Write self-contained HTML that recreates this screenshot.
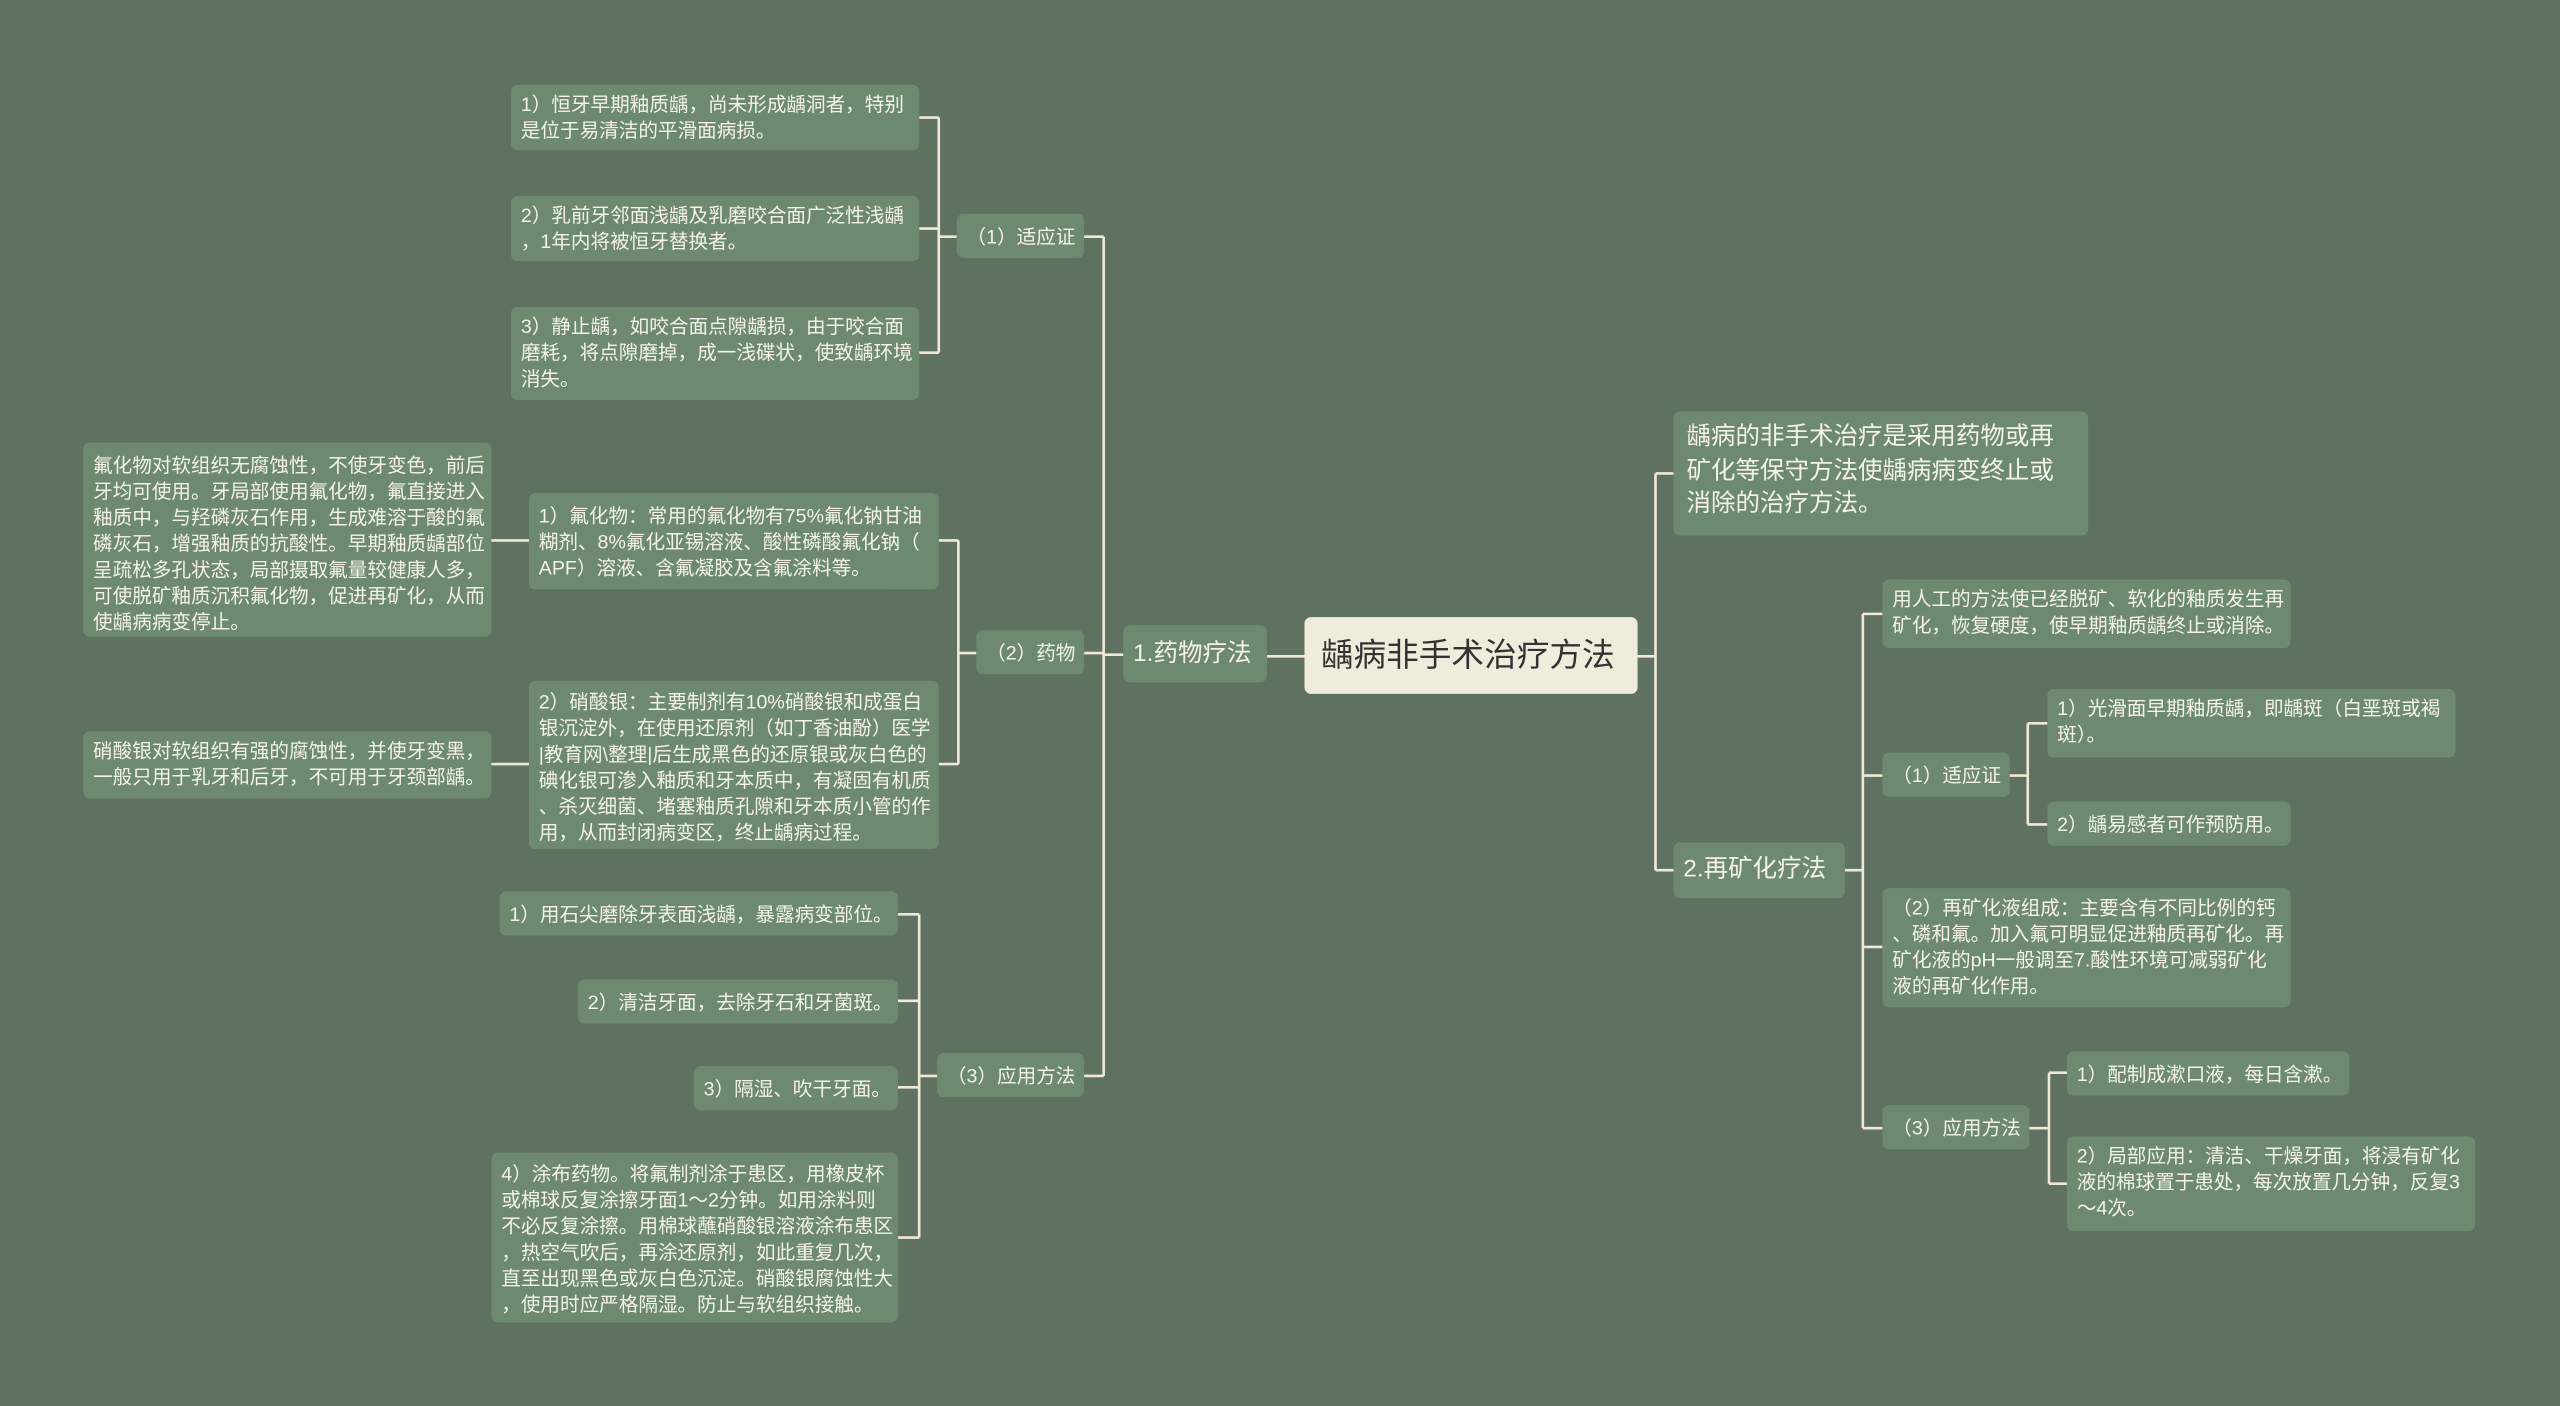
<!DOCTYPE html>
<html><head><meta charset="utf-8"><style>
html,body{margin:0;padding:0;background:#5f7261;width:2560px;height:1405px;overflow:hidden}
#s{position:absolute;left:0;top:0;width:1568px;height:861px;transform:scale(1.63265);transform-origin:0 0;font-family:"Liberation Sans","Noto Sans CJK SC",sans-serif}
.n{position:absolute;background:#6d8a70;color:#f4f2e8;border-radius:4px;box-sizing:border-box;padding:4px 6px;font-size:12px;line-height:16px;white-space:nowrap}
.m{display:flex;align-items:center}
svg{position:absolute;left:0;top:0}
</style></head><body><div id="s">
<svg width="1568" height="861" fill="none" stroke="#efe9d6" stroke-width="1.6" stroke-linejoin="round">
<path d="M799,402H776"/>
<path d="M1003,402H1014M1014,290V533M1014,290H1025M1014,533H1025"/>
<path d="M688,401H676M676,145V659M676,145H664M676,400H664M676,659H664"/>
<path d="M586,145H575M575,72V216M575,72H563M575,140H563M575,216H563"/>
<path d="M598,400H587M587,331V468M587,331H575M587,468H575"/>
<path d="M324,331H301M324,468H301"/>
<path d="M574,659H563M563,560V758M563,560H550M563,613H550M563,666H550M563,758H550"/>
<path d="M1130,533H1141M1141,376V691M1141,376H1153M1141,475H1153M1141,580H1153M1141,691H1153"/>
<path d="M1231,475H1242M1242,443V505M1242,443H1254M1242,505H1254"/>
<path d="M1243,691H1255M1255,657V725M1255,657H1266M1255,725H1266"/>
</svg>
<div class="n m" style="left:799px;top:378px;width:204px;height:47px;background:#f0ecdc;color:#333;font-size:20px;padding:0 10px">龋病非手术治疗方法</div>
<div class="n m" style="left:688px;top:383px;width:88px;height:35px;font-size:15px">1.药物疗法</div>
<div class="n m" style="left:1025px;top:516px;width:105px;height:34px;font-size:15px">2.再矿化疗法</div>
<div class="n" style="left:1025px;top:252px;width:254px;height:76px;font-size:15px;line-height:20.5px;padding:6px 8px">龋病的非手术治疗是采用药物或再<br>矿化等保守方法使龋病病变终止或<br>消除的治疗方法。</div>

<div class="n m" style="left:586px;top:131px;width:78px;height:27px">（1）适应证</div>
<div class="n" style="left:313px;top:52px;width:250px;height:40px">1）恒牙早期釉质龋，尚未形成龋洞者，特别<br>是位于易清洁的平滑面病损。</div>
<div class="n" style="left:313px;top:120px;width:250px;height:40px">2）乳前牙邻面浅龋及乳磨咬合面广泛性浅龋<br>，1年内将被恒牙替换者。</div>
<div class="n" style="left:313px;top:188px;width:250px;height:57px">3）静止龋，如咬合面点隙龋损，由于咬合面<br>磨耗，将点隙磨掉，成一浅碟状，使致龋环境<br>消失。</div>

<div class="n m" style="left:598px;top:386px;width:66px;height:27px">（2）药物</div>
<div class="n" style="left:324px;top:302px;width:251px;height:59px;padding-top:6px">1）氟化物：常用的氟化物有75%氟化钠甘油<br>糊剂、8%氟化亚锡溶液、酸性磷酸氟化钠（<br>APF）溶液、含氟凝胶及含氟涂料等。</div>
<div class="n" style="left:51px;top:271px;width:250px;height:119px;padding-top:6px">氟化物对软组织无腐蚀性，不使牙变色，前后<br>牙均可使用。牙局部使用氟化物，氟直接进入<br>釉质中，与羟磷灰石作用，生成难溶于酸的氟<br>磷灰石，增强釉质的抗酸性。早期釉质龋部位<br>呈疏松多孔状态，局部摄取氟量较健康人多，<br>可使脱矿釉质沉积氟化物，促进再矿化，从而<br>使龋病病变停止。</div>
<div class="n" style="left:324px;top:417px;width:251px;height:103px;padding-top:5px">2）硝酸银：主要制剂有10%硝酸银和成蛋白<br>银沉淀外，在使用还原剂（如丁香油酚）医学<br>|教育网\整理|后生成黑色的还原银或灰白色的<br>碘化银可渗入釉质和牙本质中，有凝固有机质<br>、杀灭细菌、堵塞釉质孔隙和牙本质小管的作<br>用，从而封闭病变区，终止龋病过程。</div>
<div class="n" style="left:51px;top:448px;width:250px;height:41px">硝酸银对软组织有强的腐蚀性，并使牙变黑，<br>一般只用于乳牙和后牙，不可用于牙颈部龋。</div>

<div class="n m" style="left:574px;top:645px;width:90px;height:27px">（3）应用方法</div>
<div class="n m" style="left:306px;top:546px;width:244px;height:27px">1）用石尖磨除牙表面浅龋，暴露病变部位。</div>
<div class="n m" style="left:354px;top:600px;width:196px;height:27px">2）清洁牙面，去除牙石和牙菌斑。</div>
<div class="n m" style="left:425px;top:653px;width:125px;height:27px">3）隔湿、吹干牙面。</div>
<div class="n" style="left:301px;top:706px;width:249px;height:104px;padding-top:5px">4）涂布药物。将氟制剂涂于患区，用橡皮杯<br>或棉球反复涂擦牙面1～2分钟。如用涂料则<br>不必反复涂擦。用棉球蘸硝酸银溶液涂布患区<br>，热空气吹后，再涂还原剂，如此重复几次，<br>直至出现黑色或灰白色沉淀。硝酸银腐蚀性大<br>，使用时应严格隔湿。防止与软组织接触。</div>

<div class="n" style="left:1153px;top:355px;width:250px;height:42px">用人工的方法使已经脱矿、软化的釉质发生再<br>矿化，恢复硬度，使早期釉质龋终止或消除。</div>
<div class="n m" style="left:1153px;top:461px;width:78px;height:27px">（1）适应证</div>
<div class="n" style="left:1254px;top:422px;width:250px;height:42px">1）光滑面早期釉质龋，即龋斑（白垩斑或褐<br>斑）。</div>
<div class="n m" style="left:1254px;top:491px;width:149px;height:27px">2）龋易感者可作预防用。</div>
<div class="n" style="left:1153px;top:544px;width:250px;height:73px">（2）再矿化液组成：主要含有不同比例的钙<br>、磷和氟。加入氟可明显促进釉质再矿化。再<br>矿化液的pH一般调至7.酸性环境可减弱矿化<br>液的再矿化作用。</div>
<div class="n m" style="left:1153px;top:677px;width:90px;height:27px">（3）应用方法</div>
<div class="n m" style="left:1266px;top:644px;width:173px;height:27px">1）配制成漱口液，每日含漱。</div>
<div class="n" style="left:1266px;top:696px;width:250px;height:58px">2）局部应用：清洁、干燥牙面，将浸有矿化<br>液的棉球置于患处，每次放置几分钟，反复3<br>～4次。</div>
</div></body></html>
